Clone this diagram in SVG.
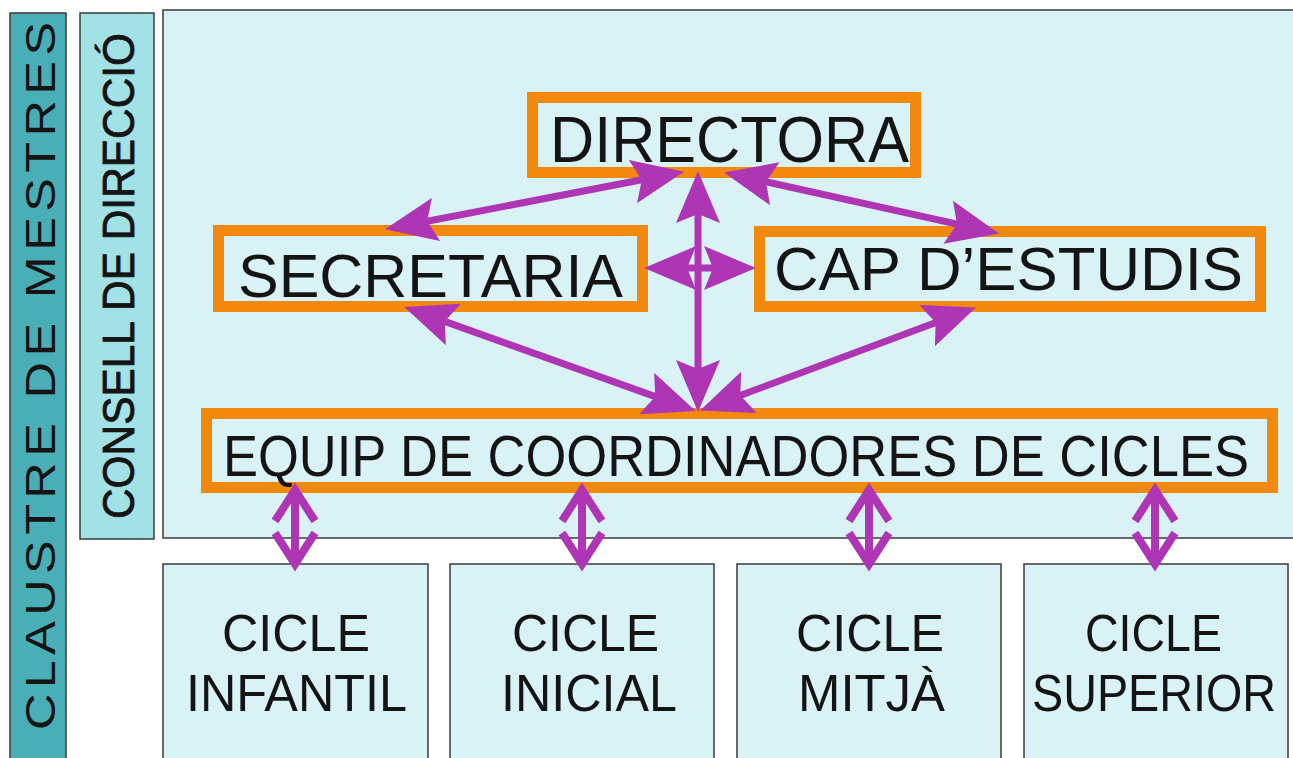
<svg xmlns="http://www.w3.org/2000/svg" width="1293" height="758" viewBox="0 0 1293 758">
<style>
.panel{stroke:#3a3a3a;stroke-width:1.5}
.obox{fill:none;stroke:#f2890d;stroke-width:11}
.t{font-family:"Liberation Sans",Arial,sans-serif;fill:#141414}
.cyc{font-size:52px;text-anchor:middle}
.arr{stroke:#ae36b4;stroke-width:7;fill:none}
.dbl{stroke:#ae36b4;stroke-width:8;fill:none;stroke-linejoin:miter}
</style>
<defs>
<marker id="ah" viewBox="0 0 52 44" markerWidth="52" markerHeight="44" markerUnits="userSpaceOnUse" refX="30" refY="22" orient="auto-start-reverse">
<path d="M0,0 L52,22 L0,44 L9,22 Z" fill="#ae36b4"/>
</marker>
</defs>
<rect width="1293" height="758" fill="#ffffff"/>
<g id="claustre">
<rect class="panel" x="10" y="13" width="56" height="760" fill="#4aaeb6"/>
<text class="t" transform="translate(55,376) rotate(-90) scale(1.2,1)" font-size="42" text-anchor="middle" textLength="590" lengthAdjust="spacing" fill="#1c2a2c">CLAUSTRE DE MESTRES</text>
</g>
<g id="consell">
<rect class="panel" x="80" y="13" width="74" height="526" fill="#a2e1e5"/>
<text class="t" transform="translate(134,276) rotate(-90)" font-size="45" text-anchor="middle" textLength="486" lengthAdjust="spacingAndGlyphs" stroke="#111" stroke-width="0.8">CONSELL DE DIRECCIÓ</text>
</g>
<g id="main">
<rect class="panel" x="163" y="10" width="1140" height="528" fill="#d9f2f6"/>
</g>
<g id="directora">
<rect class="obox" x="532.5" y="97.5" width="383" height="75"/>
<text class="t" x="729.5" y="162" font-size="65" text-anchor="middle" textLength="359" lengthAdjust="spacingAndGlyphs">DIRECTORA</text>
</g>
<g id="secretaria">
<rect class="obox" x="218.5" y="230.5" width="424" height="76"/>
<text class="t" x="430.5" y="297" font-size="61" text-anchor="middle" textLength="385" lengthAdjust="spacingAndGlyphs">SECRETARIA</text>
</g>
<g id="capestudis">
<rect class="obox" x="759.5" y="231.5" width="501" height="75"/>
<text class="t" x="1008.5" y="290" font-size="62" text-anchor="middle" textLength="469" lengthAdjust="spacingAndGlyphs">CAP D’ESTUDIS</text>
</g>
<g id="equip">
<rect class="obox" x="206.5" y="413.5" width="1066" height="74"/>
<text class="t" x="736" y="476" font-size="58" text-anchor="middle" textLength="1026" lengthAdjust="spacingAndGlyphs">EQUIP DE COORDINADORES DE CICLES</text>
</g>
<g id="infantil">
<rect class="panel" x="163" y="564" width="265" height="210" fill="#d9f2f6"/>
<text class="t cyc" x="296" y="651" textLength="148" lengthAdjust="spacingAndGlyphs">CICLE</text>
<text class="t cyc" x="296.5" y="711" textLength="221" lengthAdjust="spacingAndGlyphs">INFANTIL</text>
</g>
<g id="inicial">
<rect class="panel" x="450" y="564" width="264" height="210" fill="#d9f2f6"/>
<text class="t cyc" x="585.5" y="651" textLength="147" lengthAdjust="spacingAndGlyphs">CICLE</text>
<text class="t cyc" x="589" y="711" textLength="176" lengthAdjust="spacingAndGlyphs">INICIAL</text>
</g>
<g id="mitja">
<rect class="panel" x="737" y="564" width="264" height="210" fill="#d9f2f6"/>
<text class="t cyc" x="870" y="651" textLength="148" lengthAdjust="spacingAndGlyphs">CICLE</text>
<text class="t cyc" x="871.5" y="711" textLength="147" lengthAdjust="spacingAndGlyphs">MITJÀ</text>
</g>
<g id="superior">
<rect class="panel" x="1024" y="564" width="264" height="210" fill="#d9f2f6"/>
<text class="t cyc" x="1153.5" y="651" textLength="137" lengthAdjust="spacingAndGlyphs">CICLE</text>
<text class="t cyc" x="1154" y="711" textLength="244" lengthAdjust="spacingAndGlyphs">SUPERIOR</text>
</g>
<g id="connectors">
<line class="arr" x1="662.4" y1="175.8" x2="406.6" y2="225.2" marker-start="url(#ah)" marker-end="url(#ah)"/>
<line class="arr" x1="745.5" y1="177.3" x2="977.5" y2="228.7" marker-start="url(#ah)" marker-end="url(#ah)"/>
<line class="arr" x1="698" y1="193" x2="698" y2="390" marker-start="url(#ah)" marker-end="url(#ah)"/>
<line class="arr" x1="666" y1="268" x2="734" y2="268" marker-start="url(#ah)" marker-end="url(#ah)"/>
<line class="arr" x1="425" y1="314.4" x2="675" y2="403.6" marker-start="url(#ah)" marker-end="url(#ah)"/>
<line class="arr" x1="955.3" y1="315.2" x2="720.7" y2="402.8" marker-start="url(#ah)" marker-end="url(#ah)"/>
<g id="cyc-arrows">
<path class="dbl" d="M295,490 V563 M275,521 L295,490 L315,521 M275,533 L295,564 L315,533"/>
<path class="dbl" d="M582,490 V563 M562,521 L582,490 L602,521 M562,533 L582,564 L602,533"/>
<path class="dbl" d="M869,490 V563 M849,521 L869,490 L889,521 M849,533 L869,564 L889,533"/>
<path class="dbl" d="M1155,490 V563 M1135,521 L1155,490 L1175,521 M1135,533 L1155,564 L1175,533"/>
</g>
</g>
</svg>
